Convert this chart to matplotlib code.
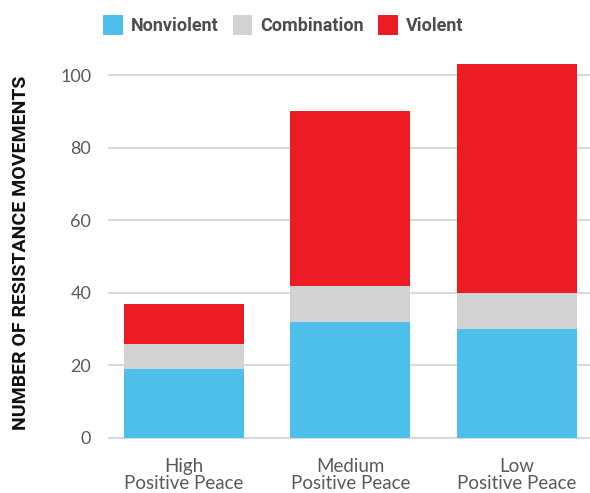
import matplotlib
matplotlib.use("Agg")
import matplotlib.pyplot as plt
import numpy as np
from matplotlib.patches import Patch

categories = ["High\nPositive Peace", "Medium\nPositive Peace", "Low\nPositive Peace"]
nonviolent = [19, 32, 30]
combination = [7, 10, 10]
violent = [11, 48, 63]

series_names = ["Nonviolent", "Combination", "Violent"]
colors = ["#4DBFEA", "#D1D2D4", "#ED1C24"]

fig = plt.figure(figsize=(5.9, 4.93), dpi=100)
ax = fig.add_axes([0.183, 0.097, 0.817, 0.781])

x = np.arange(len(categories))
bottom = np.zeros(len(categories))
for vals, c in zip([nonviolent, combination, violent], colors):
    ax.bar(x, vals, width=0.72, bottom=bottom, color=c, zorder=2)
    bottom += np.array(vals)

ax.set_xlim(-0.456, 2.44)
ax.set_ylim(-2, 104.1)
ax.set_yticks([0, 20, 40, 60, 80, 100])
ax.yaxis.grid(True, color="#d9d9d9", lw=1.5, zorder=0)
ax.set_axisbelow(True)
for s in ax.spines.values():
    s.set_visible(False)
ax.tick_params(axis="both", length=0)
ax.tick_params(axis="y", pad=12, labelsize=13, labelcolor="#5a5a5a")
ax.set_yticklabels([0, 20, 40, 60, 80, 100], family="Lato")
ax.set_xticks(x)
ax.set_xticklabels(categories, family="Lato", fontsize=13.5, color="#5a5a5a",
                   linespacing=1.05)
ax.tick_params(axis="x", pad=9)

ax.set_ylabel("NUMBER OF RESISTANCE MOVEMENTS", family="Roboto", fontweight="bold",
              fontsize=14, color="#111111")
ax.yaxis.set_label_coords(-0.162, 0.5)

handles = [Patch(facecolor=c, edgecolor="none") for c in colors]
leg = fig.legend(handles, series_names, loc="center", bbox_to_anchor=(0.48, 0.949),
                 ncol=3, frameon=False, handlelength=1.1, handleheight=1.28,
                 handletextpad=0.45, columnspacing=0.78,
                 prop={"family": "Roboto", "weight": "bold", "size": 13})
for t in leg.get_texts():
    t.set_color("#4d4d4d")

fig.savefig("out.png", dpi=100)
